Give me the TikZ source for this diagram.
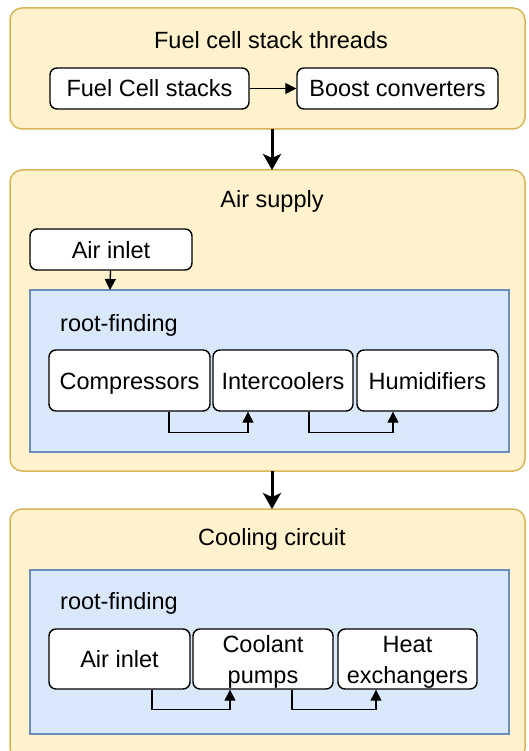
\documentclass[tikz,border=0pt]{standalone}
\usepackage{fontspec}
\setmainfont{Liberation Sans}
\usetikzlibrary{arrows.meta}

\definecolor{groupfill}{HTML}{FFF2CC}
\definecolor{groupline}{HTML}{D6B656}
\definecolor{solverfill}{HTML}{DAE8FC}
\definecolor{solverline}{HTML}{6C8EBF}

\tikzset{
  group/.style={draw=groupline, fill=groupfill, rounded corners=12pt, line width=1.5pt},
  solver/.style={draw=solverline, fill=solverfill, line width=1.5pt},
  block/.style={draw, fill=white, rounded corners=7pt, line width=1.4pt, align=center,
    inner sep=0pt, text height=17pt, text depth=0pt, font=\fontsize{23.5}{31}\selectfont},
  twoline/.style={text height=48pt},
  label/.style={inner sep=0pt, text height=17pt, text depth=0pt, font=\fontsize{23.5}{31}\selectfont},
  flow/.style={-{Triangle[length=11pt,width=11pt]}, line width=1.3pt},
  stageflow/.style={-{Stealth[length=16pt,width=18pt,inset=4pt]}, line width=3pt},
}

\begin{document}
\begin{tikzpicture}[x=1pt,y=-1pt]
\useasboundingbox (0,0) rectangle (528,751);

% stage boxes
\draw[group] (10,8) rectangle (525,129);
\draw[group] (10,170) rectangle (525,471);
\draw[group] (10,509) rectangle (525,760);

% fuel cell stack threads
\node[label] (threads) at (271,40) {Fuel cell stack threads};
\node[block, minimum width=199pt, minimum height=41pt] (stacks) at (149.5,88.5) {Fuel Cell stacks};
\node[block, minimum width=201pt, minimum height=41pt] (boost) at (397.5,88.5) {Boost converters};
\draw[flow] (stacks) -- (boost);

% air supply
\node[label] (air) at (272,199) {Air supply};
\node[block, minimum width=162pt, minimum height=41pt] (inlet) at (111,249.5) {Air inlet};
\draw[solver] (30,290) rectangle (509,452);
\node[label, anchor=west] (rootair) at (60,323) {root-finding};
\node[block, minimum width=161pt, minimum height=61pt] (comp) at (129.5,380.5) {Compressors};
\node[block, minimum width=140pt, minimum height=61pt] (inter) at (283,380.5) {Intercoolers};
\node[block, minimum width=141pt, minimum height=61pt] (humid) at (427.5,380.5) {Humidifiers};
\coordinate (solvertop) at (110,290);
\draw[flow] (inlet) -- (solvertop);
\draw[flow] ([xshift=39.5pt]comp.south) -- ++(0,21) -| ([xshift=-35pt]inter.south);
\draw[flow] ([xshift=26pt]inter.south) -- ++(0,21) -| ([xshift=-34.5pt]humid.south);

% cooling circuit
\node[label] (cool) at (272,537) {Cooling circuit};
\draw[solver] (30,570) rectangle (509,734);
\node[label, anchor=west] (rootcool) at (60,601) {root-finding};
\node[block, minimum width=141pt, minimum height=60pt] (coolinlet) at (119.5,659) {Air inlet};
\node[block, twoline, minimum width=140pt, minimum height=60pt] (pumps) at (263,659) {Coolant\\pumps};
\node[block, twoline, minimum width=139pt, minimum height=60pt] (heat) at (407.5,659) {Heat\\exchangers};
\draw[flow] ([xshift=32.5pt]coolinlet.south) -- ++(0,20) -| ([xshift=-33pt]pumps.south);
\draw[flow] ([xshift=29pt]pumps.south) -- ++(0,20) -| ([xshift=-31.5pt]heat.south);

% between stages
\coordinate (airtop) at (272,170);
\coordinate (cooltop) at (272,509);
\draw[stageflow] (272,129) -- (airtop);
\draw[stageflow] (272,471) -- (cooltop);
\end{tikzpicture}
\end{document}
